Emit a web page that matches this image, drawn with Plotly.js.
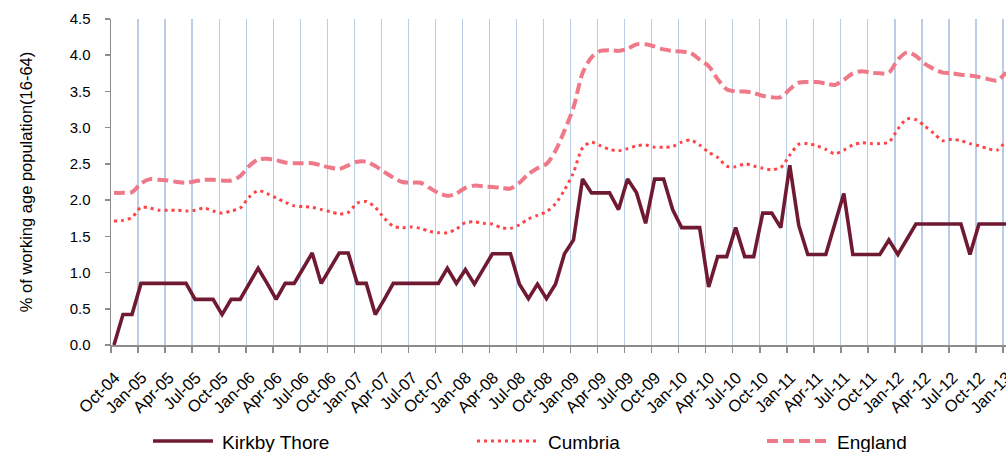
<!DOCTYPE html>
<html>
<head>
<meta charset="utf-8">
<script src="https://cdn.plot.ly/plotly-3.0.1.min.js"></script>
<style>
html,body{margin:0;padding:0;background:#fff;}
#chart{width:1006px;height:452px;}
</style>
</head>
<body>
<div id="chart"></div>
<script>
// ---- DATA ----
const tickLabels = ['Oct-04','Jan-05','Apr-05','Jul-05','Oct-05','Jan-06','Apr-06','Jul-06','Oct-06',
  'Jan-07','Apr-07','Jul-07','Oct-07','Jan-08','Apr-08','Jul-08','Oct-08','Jan-09','Apr-09','Jul-09',
  'Oct-09','Jan-10','Apr-10','Jul-10','Oct-10','Jan-11','Apr-11','Jul-11','Oct-11','Jan-12','Apr-12',
  'Jul-12','Oct-12','Jan-13'];

const seriesNames = ['Kirkby Thore','Cumbria','England'];

const kirkbyThore = [
  0,0.42,0.42,0.85,0.85,0.85,0.85,0.85,0.85,0.63,
  0.63,0.63,0.42,0.63,0.63,0.85,1.06,0.85,0.63,0.85,
  0.85,1.06,1.27,0.85,1.06,1.27,1.27,0.85,0.85,0.42,
  0.63,0.85,0.85,0.85,0.85,0.85,0.85,1.06,0.85,1.04,
  0.84,1.05,1.26,1.26,1.26,0.84,0.64,0.84,0.64,0.84,
  1.26,1.45,2.29,2.1,2.1,2.1,1.87,2.29,2.1,1.68,
  2.29,2.29,1.87,1.62,1.62,1.62,0.8,1.22,1.22,1.62,
  1.22,1.22,1.82,1.82,1.62,2.48,1.65,1.25,1.25,1.25,
  1.67,2.09,1.25,1.25,1.25,1.25,1.45,1.25,1.46,1.67,
  1.67,1.67,1.67,1.67,1.67,1.25,1.67,1.67,1.67,1.67];

const cumbria = [
  1.71,1.72,1.76,1.90,1.89,1.86,1.86,1.86,1.85,1.86,
  1.89,1.85,1.82,1.85,1.89,2.04,2.13,2.09,2.03,1.97,
  1.92,1.91,1.90,1.87,1.84,1.81,1.83,1.96,1.98,1.90,
  1.75,1.64,1.62,1.63,1.61,1.57,1.55,1.55,1.60,1.69,
  1.70,1.68,1.67,1.62,1.61,1.66,1.74,1.79,1.84,1.95,
  2.14,2.38,2.72,2.80,2.75,2.70,2.68,2.71,2.75,2.76,
  2.73,2.73,2.74,2.80,2.83,2.76,2.66,2.59,2.47,2.46,
  2.50,2.47,2.44,2.42,2.45,2.62,2.77,2.78,2.75,2.70,
  2.64,2.69,2.76,2.79,2.78,2.78,2.80,2.98,3.12,3.11,
  3.02,2.92,2.82,2.84,2.82,2.78,2.75,2.71,2.69,2.82];

const england = [
  2.10,2.10,2.11,2.23,2.29,2.28,2.27,2.25,2.24,2.26,
  2.28,2.28,2.27,2.27,2.33,2.47,2.56,2.57,2.55,2.52,
  2.51,2.51,2.51,2.48,2.45,2.43,2.48,2.53,2.53,2.47,
  2.39,2.31,2.25,2.24,2.24,2.17,2.10,2.06,2.09,2.17,
  2.20,2.19,2.18,2.17,2.16,2.24,2.36,2.44,2.50,2.68,
  2.96,3.28,3.75,3.97,4.06,4.07,4.06,4.09,4.15,4.15,
  4.12,4.08,4.06,4.05,4.03,3.94,3.85,3.67,3.53,3.50,
  3.50,3.48,3.44,3.42,3.42,3.53,3.62,3.63,3.63,3.61,
  3.59,3.66,3.75,3.78,3.76,3.75,3.76,3.94,4.04,3.99,
  3.88,3.81,3.76,3.75,3.73,3.72,3.70,3.67,3.65,3.76];

// ---- LAYOUT / STYLE ----
const FONT = '"Liberation Sans", Arial, sans-serif';
const ML = 111, MT = 19, W = 1006, H = 452, MB = 107, MR = 0;
const PW = W - ML - MR, PH = H - MT - MB;
const POINT_OFFSET = 0.33;               // points sit a little right of each month tick
const TICK_STEP = 3;
const xMax = 99.33;

const months = kirkbyThore.map((_, i) => i + POINT_OFFSET);
const tickVals = tickLabels.map((_, i) => i * TICK_STEP);

const colors = ['#701a32', '#ff4448', '#ef7889'];

const px2x = p => (p - ML) / PW;
const py2y = p => (MT + PH - p) / PH;

const traces = [
  {x: months, y: kirkbyThore, name: seriesNames[0], type: 'scatter', mode: 'lines',
   line: {color: colors[0], width: 3.6}, showlegend: false},
  {x: months, y: cumbria, name: seriesNames[1], type: 'scatter', mode: 'lines',
   line: {color: colors[1], width: 3, dash: '3px,4px', shape: 'spline', smoothing: 0.8}, showlegend: false},
  {x: months, y: england, name: seriesNames[2], type: 'scatter', mode: 'lines',
   line: {color: colors[2], width: 4, dash: '11px,5px', shape: 'spline', smoothing: 0.8}, showlegend: false}
];
const ordered = [traces[2], traces[1], traces[0]];

// manual legend (Excel style long samples)
const legY = py2y(441);
const legendItems = [
  {x0: 153, x1: 213, tx: 220, dash: 'solid', width: 3.6},
  {x0: 477, x1: 539, tx: 546, dash: '3px,4px', width: 3},
  {x0: 767, x1: 828, tx: 835, dash: '11px,5px', width: 4}
];
const shapes = legendItems.map((it, k) => ({
  type: 'line', xref: 'paper', yref: 'paper',
  x0: px2x(it.x0), x1: px2x(it.x1), y0: legY, y1: legY,
  line: {color: colors[k], width: it.width, dash: it.dash}
}));
const annotations = legendItems.map((it, k) => ({
  xref: 'paper', yref: 'paper', x: px2x(it.tx), y: py2y(442),
  xanchor: 'left', yanchor: 'middle', showarrow: false,
  text: seriesNames[k], font: {family: FONT, size: 19, color: '#000'}
}));

const layout = {
  width: W, height: H,
  margin: {l: ML, r: MR, t: MT, b: MB, pad: 0},
  paper_bgcolor: '#fff', plot_bgcolor: '#fff',
  font: {family: FONT, size: 15, color: '#000'},
  showlegend: false,
  xaxis: {
    range: [0, xMax], tickmode: 'array', tickvals: tickVals, ticktext: tickLabels,
    tickangle: -45, tickfont: {family: FONT, size: 16.5, color: '#000'},
    ticklabelstandoff: 9, ticklabelshift: 4, ticklabeloverflow: 'allow',
    showgrid: true, gridcolor: '#b9cde5', gridwidth: 1.2,
    showline: true, linecolor: '#8c8c8c', linewidth: 1.5,
    ticks: 'outside', ticklen: 6, tickcolor: '#8c8c8c', tickwidth: 1.5,
    zeroline: false, fixedrange: true, automargin: false
  },
  yaxis: {
    range: [0, 4.5], tick0: 0, dtick: 0.5, tickformat: '.1f',
    tickfont: {family: FONT, size: 15, color: '#000'},
    ticklabelstandoff: 11,
    showgrid: false, zeroline: false,
    showline: true, linecolor: '#8c8c8c', linewidth: 1.5,
    ticks: 'outside', ticklen: 5, tickcolor: '#8c8c8c', tickwidth: 1.5,
    title: {text: '% of working age population(16-64)', font: {family: FONT, size: 16.5, color: '#000'}, standoff: 33},
    fixedrange: true, automargin: false
  },
  shapes: shapes,
  annotations: annotations
};

Plotly.newPlot('chart', ordered, layout, {displayModeBar: false, staticPlot: true});
</script>
</body>
</html>
